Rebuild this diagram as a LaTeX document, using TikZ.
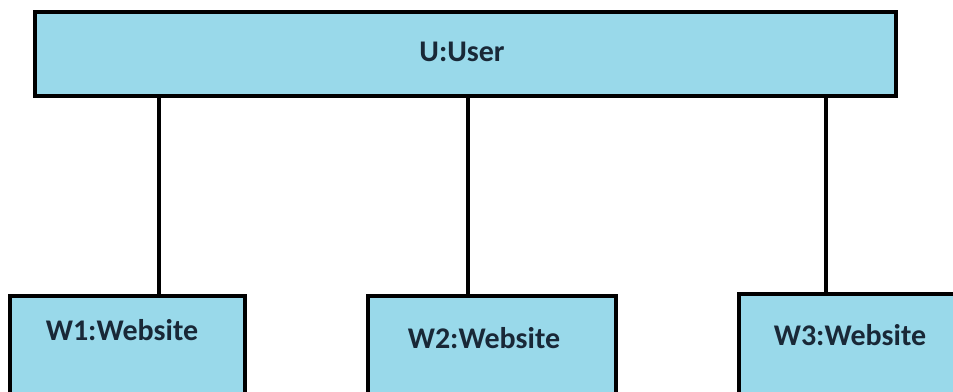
\documentclass[tikz,border=0pt]{standalone}
\usepackage{fontspec}
\setmainfont{Carlito}
\definecolor{boxfill}{RGB}{153,217,234}
\definecolor{labelink}{RGB}{25,40,55}
\begin{document}
\begin{tikzpicture}[x=1pt,y=-1pt,
  box/.style={draw=black, line width=4pt, fill=boxfill, rectangle, inner sep=0pt},
  lbl/.style={font=\bfseries\fontsize{30}{36}\selectfont, text=labelink, inner sep=0pt},
  link/.style={line width=4pt}]
\useasboundingbox (0,0) rectangle (953,391);
\clip (0,0) rectangle (953,391);
% object boxes
\node[box, minimum width=861pt, minimum height=84pt] (u) at (465.5,54) {};
\node[box, minimum width=235pt, minimum height=124pt] (w1) at (127.5,358) {};
\node[box, minimum width=248pt, minimum height=124pt] (w2) at (492,358) {};
\node[box, minimum width=251pt, minimum height=126pt] (w3) at (864.5,357) {};
% labels
\node[lbl] (tu) at (462,52) {U:User};
\node[lbl] (t1) at (122,330) {W1:Website};
\node[lbl] (t2) at (484,338) {W2:Website};
\node[lbl] (t3) at (850,335) {W3:Website};
% links
\coordinate (c1) at (159,0);
\coordinate (c2) at (468,0);
\coordinate (c3) at (826,0);
\draw[link] (u.south -| c1) -- (w1.north -| c1);
\draw[link] (u.south -| c2) -- (w2.north -| c2);
\draw[link] (u.south -| c3) -- (w3.north -| c3);
\end{tikzpicture}
\end{document}
